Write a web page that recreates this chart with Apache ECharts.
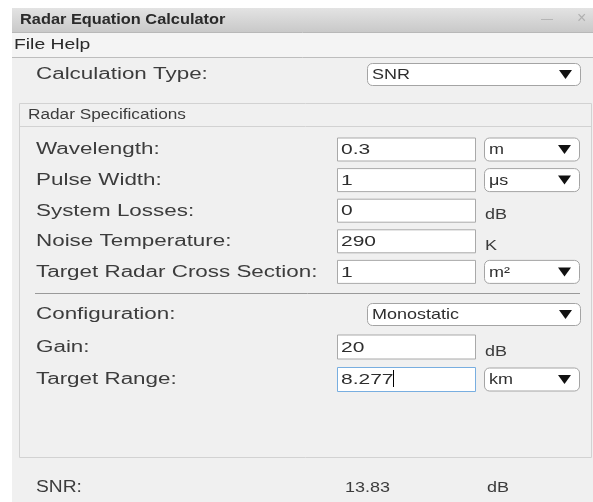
<!DOCTYPE html>
<html>
<head>
<meta charset="utf-8">
<script src="https://cdn.jsdelivr.net/npm/echarts@6/dist/echarts.min.js"></script>
<style>
  html, body { margin: 0; padding: 0; background: #fff; }
  #main { width: 593px; height: 502px; }
</style>
</head>
<body>
<div id="main"></div>
<script>
// texts of the window
const windowTitle = 'Radar Equation Calculator';
const menuItems = ['File', 'Help'];
const calcTypeLabel = 'Calculation Type:';
const calcTypeValue = 'SNR';
const panelTitle = 'Radar Specifications';

// radar specification rows
const specLabels = ['Wavelength:', 'Pulse Width:', 'System Losses:', 'Noise Temperature:', 'Target Radar Cross Section:'];
const specValues = ['0.3', '1', '0', '290', '1'];
const specUnits = ['m', 'μs', 'dB', 'K', 'm²'];
const specUnitMenu = [true, true, false, false, true];

// configuration rows
const configLabels = ['Configuration:', 'Gain:', 'Target Range:'];
const configValues = ['Monostatic', '20', '8.277'];
const configUnits = ['', 'dB', 'km'];
const configIsMenu = [true, false, false];
const configUnitMenu = [false, false, true];

// result
const resultLabel = 'SNR:';
const resultValue = '13.83';
const resultUnit = 'dB';

const FONT = '"Liberation Sans", Arial, sans-serif';
const SX = 1.2;
const LABEL_SX = 1.4;
const FIELD_SX = 1.4;
const INK = '#3c3c3c';

function txt(x, y, text, size, opt) {
    opt = opt || {};
    return {
        type: 'text',
        x: x,
        y: y + 1,
        scaleX: opt.sx || SX,
        z: 10,
        style: {
            text: text,
            fill: opt.color || INK,
            font: (opt.weight || 'normal') + ' ' + size + 'px ' + FONT,
            verticalAlign: 'middle',
            align: 'left'
        }
    };
}

function field(x, cy, w, h, text, focused) {
    const els = [{
        type: 'rect',
        shape: { x: x + 0.5, y: cy - h / 2 + 0.5, width: w, height: h },
        style: { fill: '#fff', stroke: focused ? '#78aee0' : '#a9a9a9', lineWidth: 1 }
    }, txt(x + 4, cy, text, 15, { sx: FIELD_SX, color: '#2e2e2e' })];
    if (focused) {
        // text cursor after the value
        els.push({
            type: 'line',
            shape: { x1: x + 56.5, y1: cy - 9, x2: x + 56.5, y2: cy + 8 },
            style: { stroke: '#000', lineWidth: 1 },
            z: 11
        });
    }
    return els;
}

function dropdown(x, cy, w, h, text) {
    return [{
        type: 'rect',
        shape: { x: x + 0.5, y: cy - h / 2 + 0.5, width: w, height: h, r: 5 },
        style: { fill: '#fff', stroke: '#a4a4a4', lineWidth: 1 }
    }, txt(x + 5, cy, text, 15, { color: '#2e2e2e' }), {
        type: 'polygon',
        shape: { points: [[x + w - 21, cy - 4], [x + w - 8, cy - 4], [x + w - 14.5, cy + 5]] },
        style: { fill: '#111' },
        z: 11
    }];
}

let g = [];

// window body
g.push({ type: 'rect', shape: { x: 12, y: 8, width: 581, height: 494 }, style: { fill: '#f0f0f0' } });
// title bar
g.push({
    type: 'rect', shape: { x: 12, y: 8, width: 581, height: 24 },
    style: { fill: new echarts.graphic.LinearGradient(0, 0, 0, 1, [{ offset: 0, color: '#e3e3e3' }, { offset: 1, color: '#c9c9c9' }]) }
});
g.push({ type: 'line', shape: { x1: 12, y1: 32.5, x2: 593, y2: 32.5 }, style: { stroke: '#b8b8b8' } });
g.push(txt(20, 19, windowTitle, 15, { weight: 'bold', color: '#2a2a2a', sx: 1.09 }));
g.push(txt(541, 19, '—', 12, { color: '#b0b0b0', sx: 1 }));
g.push(txt(577, 18, '×', 16, { color: '#b0b0b0', sx: 1 }));
// menu bar
g.push({ type: 'rect', shape: { x: 12, y: 33, width: 581, height: 24 }, style: { fill: '#f4f4f4' } });
g.push({ type: 'line', shape: { x1: 12, y1: 57.5, x2: 593, y2: 57.5 }, style: { stroke: '#bdbdbd' } });
g.push(txt(14, 44, menuItems.join(' '), 14, { color: '#2a2a2a', sx: 1.38 }));

// calculation type
g.push(txt(36, 74, calcTypeLabel, 16, { sx: LABEL_SX }));
g = g.concat(dropdown(367, 74, 213, 22, calcTypeValue));

// panel
g.push({ type: 'rect', shape: { x: 19.5, y: 103.5, width: 572, height: 354 }, style: { fill: 'none', stroke: '#d2d2d2' } });
g.push({ type: 'line', shape: { x1: 20, y1: 126.5, x2: 591, y2: 126.5 }, style: { stroke: '#d2d2d2' } });
g.push(txt(28, 114, panelTitle, 14, { sx: 1.23 }));

specLabels.forEach(function (lab, i) {
    const cy = 149 + i * 30.6;
    g.push(txt(36, cy, lab, 16, { sx: LABEL_SX }));
    g = g.concat(field(337, cy, 138, 23, specValues[i], false));
    if (specUnitMenu[i]) {
        g = g.concat(dropdown(484, cy, 95, 23, specUnits[i]));
    } else {
        g.push(txt(485, cy + 4, specUnits[i], 15));
    }
});

g.push({ type: 'line', shape: { x1: 35, y1: 293.5, x2: 580, y2: 293.5 }, style: { stroke: '#9a9a9a' } });

configLabels.forEach(function (lab, i) {
    const cy = 314 + i * 32.5;
    g.push(txt(36, cy, lab, 16, { sx: LABEL_SX }));
    if (configIsMenu[i]) {
        g = g.concat(dropdown(367, cy, 213, 22, configValues[i]));
        return;
    }
    g = g.concat(field(337, cy, 138, 24, configValues[i], i === configLabels.length - 1));
    if (configUnitMenu[i]) {
        g = g.concat(dropdown(484, cy, 95, 23, configUnits[i]));
    } else {
        g.push(txt(485, cy + 4, configUnits[i], 15));
    }
});

// result row
g.push(txt(36, 487, resultLabel, 16));
g.push(txt(345, 487, resultValue, 15));
g.push(txt(487, 487, resultUnit, 15));

const chart = echarts.init(document.getElementById('main'));
chart.setOption({
    animation: false,
    backgroundColor: '#fff',
    graphic: { elements: g }
});
</script>
</body>
</html>
